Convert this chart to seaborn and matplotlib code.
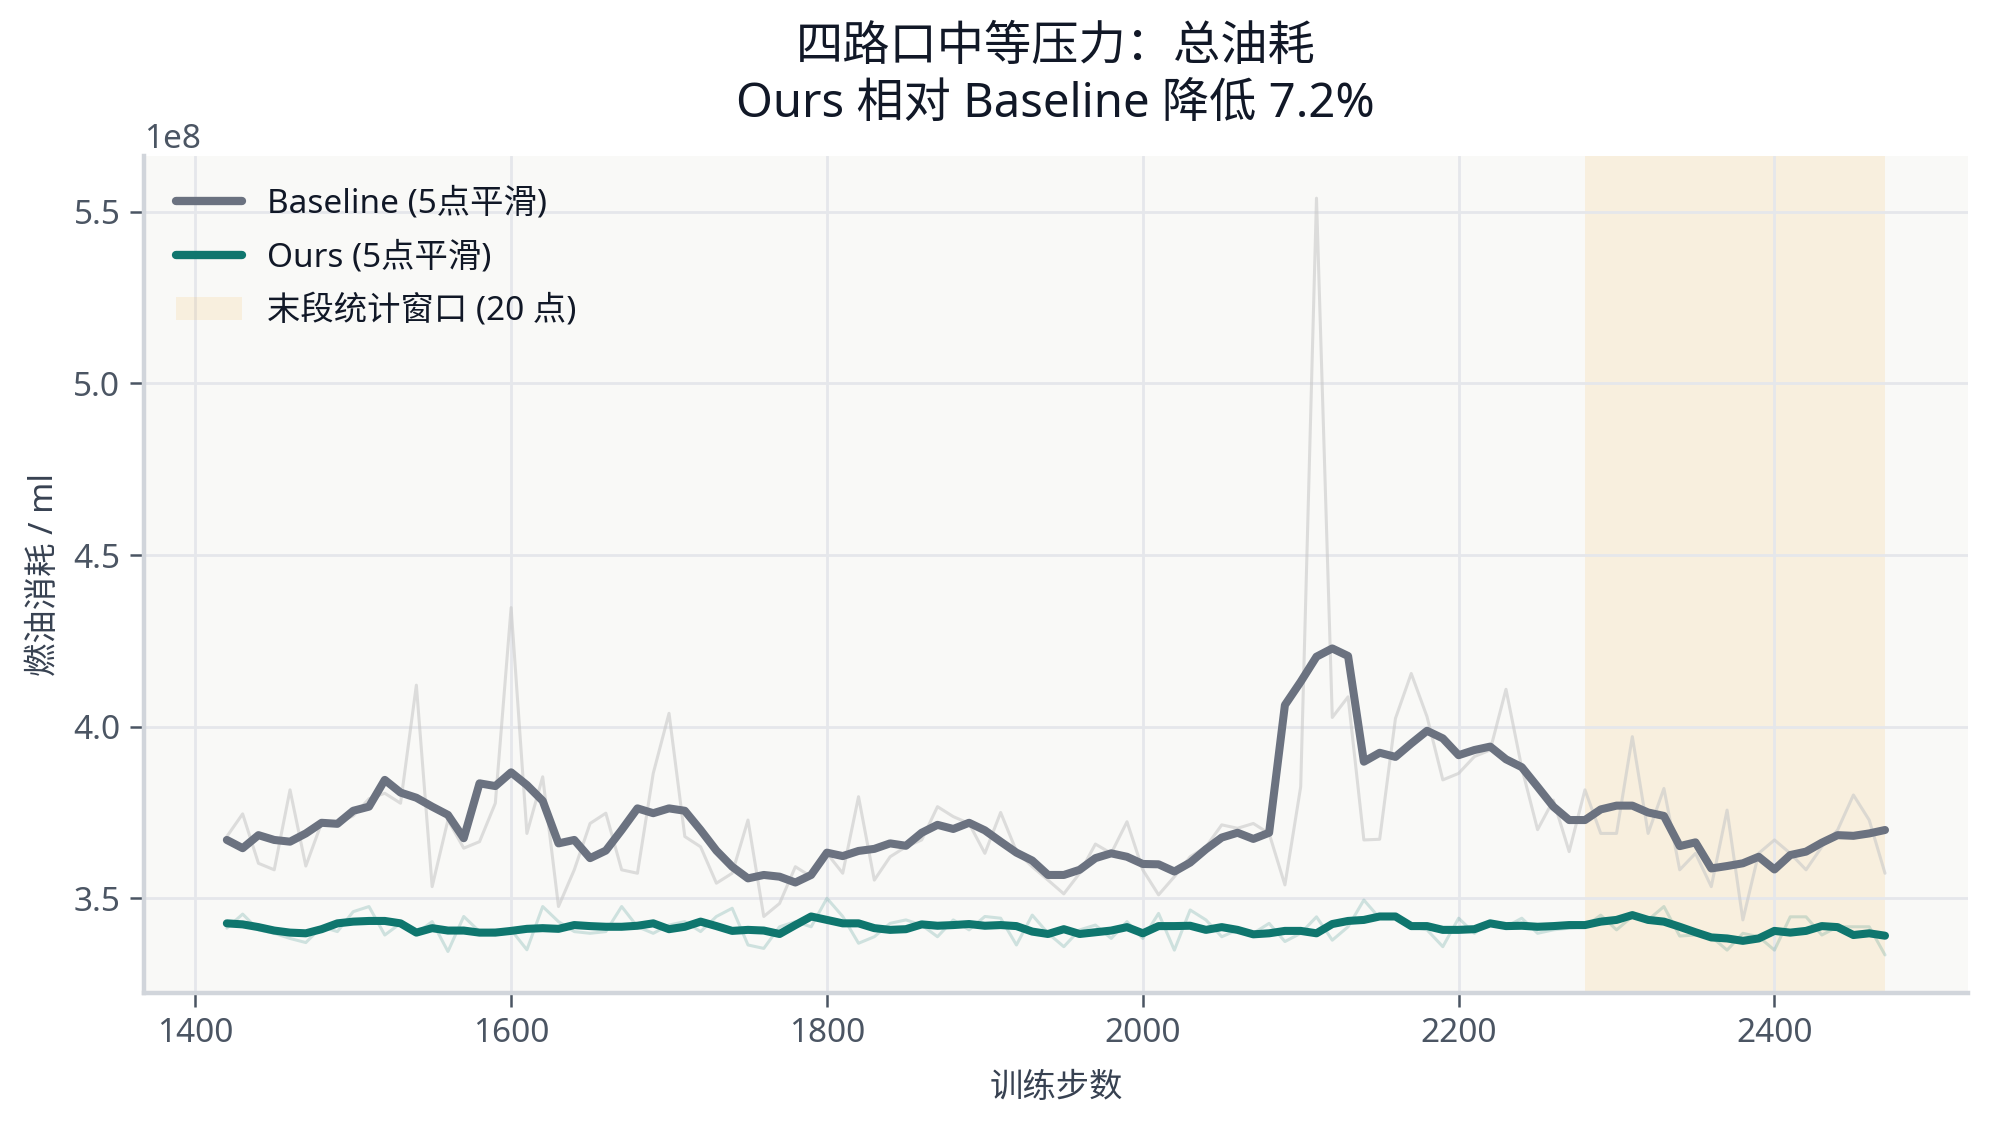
import numpy as np
import pandas as pd
import matplotlib
matplotlib.use("Agg")
import matplotlib.pyplot as plt
import seaborn as sns
from matplotlib.patches import Patch
from matplotlib.lines import Line2D

# ---------------- data (values in units of 1e8 ml) ----------------
steps = list(range(1420, 2471, 10))

baseline_raw = [
    3.680, 3.746, 3.602, 3.583, 3.816, 3.594, 3.720, 3.720, 3.740, 3.790,
    3.806, 3.777, 4.121, 3.534, 3.728, 3.646, 3.665, 3.777, 4.347, 3.689,
    3.854, 3.476, 3.583, 3.718, 3.748, 3.583, 3.573, 3.864, 4.039, 3.680,
    3.650, 3.544, 3.573, 3.728, 3.447, 3.485, 3.592, 3.563, 3.631, 3.573,
    3.796, 3.553, 3.621, 3.650, 3.670, 3.767, 3.738, 3.718, 3.631, 3.750,
    3.637, 3.592, 3.553, 3.513, 3.573, 3.658, 3.631, 3.723, 3.583, 3.510,
    3.563, 3.621, 3.650, 3.714, 3.704, 3.718, 3.689, 3.539, 3.825, 5.540,
    4.027, 4.087, 3.670, 3.672, 4.024, 4.155, 4.029, 3.845, 3.864, 3.913,
    3.932, 4.109, 3.880, 3.700, 3.786, 3.636, 3.816, 3.689, 3.689, 3.971,
    3.689, 3.820, 3.583, 3.631, 3.534, 3.757, 3.437, 3.631, 3.670, 3.631,
    3.583, 3.650, 3.699, 3.801, 3.728, 3.573,
]

baseline_smooth = [
    3.670, 3.646, 3.684, 3.670, 3.665, 3.689, 3.720, 3.717, 3.755, 3.767,
    3.845, 3.808, 3.793, 3.767, 3.743, 3.675, 3.835, 3.827, 3.867, 3.830,
    3.784, 3.660, 3.670, 3.617, 3.639, 3.699, 3.762, 3.748, 3.762, 3.755,
    3.699, 3.639, 3.592, 3.558, 3.568, 3.563, 3.546, 3.568, 3.633, 3.623,
    3.638, 3.644, 3.660, 3.653, 3.691, 3.714, 3.702, 3.720, 3.698, 3.665,
    3.633, 3.610, 3.568, 3.568, 3.583, 3.617, 3.631, 3.621, 3.600, 3.599,
    3.578, 3.604, 3.643, 3.677, 3.691, 3.673, 3.691, 4.063, 4.131, 4.204,
    4.228, 4.206, 3.898, 3.924, 3.912, 3.951, 3.988, 3.966, 3.917, 3.932,
    3.942, 3.905, 3.882, 3.825, 3.767, 3.728, 3.728, 3.759, 3.770, 3.770,
    3.750, 3.740, 3.652, 3.663, 3.587, 3.594, 3.602, 3.621, 3.584, 3.626,
    3.636, 3.662, 3.684, 3.682, 3.689, 3.699,
]

ours_raw = [
    3.413, 3.454, 3.408, 3.398, 3.383, 3.371, 3.417, 3.403, 3.461, 3.476,
    3.393, 3.427, 3.398, 3.432, 3.345, 3.447, 3.403, 3.408, 3.408, 3.350,
    3.476, 3.432, 3.403, 3.398, 3.403, 3.476, 3.417, 3.398, 3.422, 3.432,
    3.403, 3.447, 3.471, 3.364, 3.354, 3.417, 3.432, 3.417, 3.500, 3.447,
    3.369, 3.388, 3.427, 3.437, 3.422, 3.388, 3.437, 3.408, 3.447, 3.442,
    3.364, 3.451, 3.398, 3.359, 3.408, 3.422, 3.383, 3.432, 3.383, 3.456,
    3.349, 3.466, 3.437, 3.388, 3.408, 3.398, 3.427, 3.374, 3.398, 3.446,
    3.378, 3.417, 3.495, 3.442, 3.447, 3.417, 3.408, 3.359, 3.442, 3.398,
    3.432, 3.417, 3.442, 3.398, 3.408, 3.413, 3.417, 3.451, 3.408, 3.447,
    3.437, 3.476, 3.390, 3.393, 3.388, 3.349, 3.398, 3.388, 3.349, 3.446,
    3.446, 3.393, 3.417, 3.417, 3.417, 3.335,
]

ours_smooth = [
    3.427, 3.424, 3.416, 3.406, 3.400, 3.398, 3.410, 3.427, 3.432, 3.434,
    3.434, 3.427, 3.400, 3.413, 3.406, 3.406, 3.400, 3.400, 3.405, 3.411,
    3.413, 3.411, 3.422, 3.419, 3.417, 3.417, 3.420, 3.427, 3.410, 3.417,
    3.432, 3.419, 3.405, 3.408, 3.406, 3.396, 3.422, 3.447, 3.437, 3.427,
    3.427, 3.413, 3.408, 3.410, 3.424, 3.420, 3.422, 3.425, 3.420, 3.422,
    3.419, 3.403, 3.396, 3.410, 3.396, 3.401, 3.406, 3.416, 3.398, 3.419,
    3.419, 3.420, 3.408, 3.416, 3.408, 3.395, 3.398, 3.405, 3.405, 3.398,
    3.425, 3.434, 3.437, 3.447, 3.447, 3.419, 3.419, 3.408, 3.408, 3.410,
    3.427, 3.419, 3.420, 3.417, 3.419, 3.422, 3.422, 3.432, 3.437, 3.451,
    3.437, 3.432, 3.417, 3.401, 3.386, 3.383, 3.376, 3.383, 3.405, 3.400,
    3.405, 3.419, 3.416, 3.393, 3.398, 3.391,
]

window_start, window_end = 2280, 2470

title_text = "四路口中等压力：总油耗\nOurs 相对 Baseline 降低 7.2%"
xlabel_text = "训练步数"
ylabel_text = "燃油消耗 / ml"
label_base = "Baseline (5点平滑)"
label_ours = "Ours (5点平滑)"
label_window = "末段统计窗口 (20 点)"

# ---------------- style ----------------
sns.set_theme(style="whitegrid")
plt.rcParams["font.family"] = ["Noto Sans", "Noto Sans CJK SC", "DejaVu Sans"]
plt.rcParams["axes.unicode_minus"] = False

C_BASE = "#6b7280"
C_OURS = "#0f766e"
C_TEXT = "#4b5563"
C_TITLE = "#111827"

df = pd.DataFrame({
    "step": steps,
    "baseline_raw": np.array(baseline_raw) * 1e8,
    "baseline_smooth": np.array(baseline_smooth) * 1e8,
    "ours_raw": np.array(ours_raw) * 1e8,
    "ours_smooth": np.array(ours_smooth) * 1e8,
})

fig = plt.figure(figsize=(1991 / 200, 1126 / 200), dpi=200)
ax = fig.add_axes([0.0723, 0.1181, 0.9161, 0.7434])
ax.set_facecolor("#f9f9f7")

ax.axvspan(window_start, window_end, color="#f59e0b", alpha=0.10, lw=0, zorder=0.5)

sns.lineplot(data=df, x="step", y="baseline_raw", ax=ax, color="#c9c9c9",
             lw=1.1, alpha=0.6, zorder=2, legend=False)
sns.lineplot(data=df, x="step", y="ours_raw", ax=ax, color=C_OURS,
             lw=1.1, alpha=0.18, zorder=2, legend=False)
sns.lineplot(data=df, x="step", y="baseline_smooth", ax=ax, color=C_BASE,
             lw=2.9, zorder=3, legend=False)
sns.lineplot(data=df, x="step", y="ours_smooth", ax=ax, color=C_OURS,
             lw=2.9, zorder=3, legend=False)

ax.set_ylim(3.224e8, 5.663e8)
ax.set_yticks(np.array([3.5, 4.0, 4.5, 5.0, 5.5]) * 1e8)
ax.set_xticks([1400, 1600, 1800, 2000, 2200, 2400])

ax.grid(True, color="#e5e7eb", lw=1.0)
ax.set_axisbelow(True)
for s in ["top", "right"]:
    ax.spines[s].set_visible(False)
for s in ["left", "bottom"]:
    ax.spines[s].set_color("#d1d5db")
    ax.spines[s].set_linewidth(1.6)

ax.tick_params(axis="both", which="major", labelsize=12, colors=C_TEXT,
               length=5, width=0.9, direction="out", bottom=True, left=True)
ax.yaxis.get_offset_text().set_fontsize(12)
ax.yaxis.get_offset_text().set_color(C_TEXT)

ax.set_xlabel(xlabel_text, fontsize=12, color="#374151", labelpad=8)
ax.set_ylabel(ylabel_text, fontsize=12, color="#374151", labelpad=4.5)
fig.text(0.530, 0.932, title_text, fontsize=17, color=C_TITLE,
         ha="center", va="center", linespacing=1.3)

handles = [
    Line2D([0], [0], color=C_BASE, lw=3.0),
    Line2D([0], [0], color=C_OURS, lw=3.0),
    Patch(facecolor="#f59e0b", alpha=0.10, edgecolor="none"),
]
leg = ax.legend(handles, [label_base, label_ours, label_window], loc="upper left",
                frameon=False, fontsize=12, handlelength=2.0, labelspacing=0.62,
                borderaxespad=0.55, handletextpad=0.75)
for t in leg.get_texts():
    t.set_color(C_TITLE)

fig.savefig("out.png", dpi=200, facecolor="white")
